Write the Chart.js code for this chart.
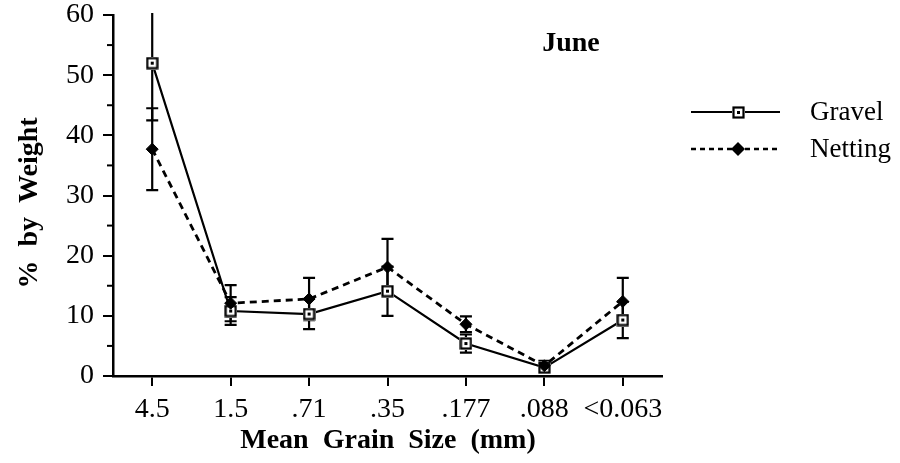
<!DOCTYPE html>
<html lang="en">
  <head>
    <meta charset="UTF-8" />
    <title>June grain size</title>
    <script src="https://cdn.jsdelivr.net/npm/chart.js@4.4.0/dist/chart.umd.min.js"></script>
    <style>
      html, body { margin: 0; padding: 0; background: #fff; }
      #wrap { width: 900px; height: 463px; }
    </style>
  </head>
  <body>
    <div id="wrap"><canvas id="myChart" width="900" height="463"></canvas></div>
    <script>
      const labels = ["4.5", "1.5", ".71", ".35", ".177", ".088", "<0.063"];
      const gravel = [52, 10.8, 10.3, 14.1, 5.4, 1.4, 9.3];
      const gravelErr = [9.5, 2.3, 2.5, 4.1, 1.5, 0.8, 3.0];
      const netting = [37.7, 12.1, 12.8, 18.1, 8.6, 1.7, 12.4];
      const nettingErr = [6.8, 3.0, 3.5, 4.7, 1.3, 0.8, 3.9];
      const yTicks = [0, 10, 20, 30, 40, 50, 60];

      const serif = "'Liberation Serif', 'DejaVu Serif', serif";

      // open square with a dot in the middle
      const sq = document.createElement("canvas");
      sq.width = 13; sq.height = 13;
      const sctx = sq.getContext("2d");
      sctx.fillStyle = "#fff";
      sctx.fillRect(0, 0, 13, 13);
      sctx.strokeStyle = "#000";
      sctx.lineWidth = 2.2;
      sctx.strokeRect(1.5, 1.5, 10, 10);
      sctx.fillStyle = "#000";
      sctx.fillRect(5, 5, 3, 3);

      const errorBars = {
        id: "errorBars",
        beforeDatasetsDraw(chart) {
          const c = chart.ctx;
          const xs = chart.scales.x, ys = chart.scales.y;
          const area = chart.chartArea;
          c.save();
          c.beginPath();
          c.rect(area.left, area.top - 2, area.right - area.left, area.bottom - area.top + 2);
          c.clip();
          c.strokeStyle = "#000";
          c.lineWidth = 2.2;
          [[gravel, gravelErr], [netting, nettingErr]].forEach(([vals, errs]) => {
            vals.forEach((v, i) => {
              const x = xs.getPixelForValue(i);
              const top = ys.getPixelForValue(v + errs[i]);
              const bot = ys.getPixelForValue(Math.max(0, v - errs[i]));
              c.beginPath();
              c.moveTo(x, top); c.lineTo(x, bot);
              c.moveTo(x - 6, top); c.lineTo(x + 6, top);
              c.moveTo(x - 6, bot); c.lineTo(x + 6, bot);
              c.stroke();
            });
          });
          c.restore();
        },
        afterDraw(chart) {
          const c = chart.ctx;
          const ys = chart.scales.y;
          const left = chart.chartArea.left;
          c.save();
          // minor ticks
          c.strokeStyle = "#000";
          c.lineWidth = 2;
          for (let v = 5; v < 60; v += 10) {
            const y = ys.getPixelForValue(v);
            c.beginPath();
            c.moveTo(left - 6, y); c.lineTo(left, y);
            c.stroke();
          }
          c.fillStyle = "#000";
          c.font = "bold 28px " + serif;
          c.textAlign = "center";
          c.textBaseline = "middle";
          c.fillText("June", 571, 44);
          c.fillText("Mean  Grain  Size  (mm)", 388, 441);
          c.save();
          c.translate(30, 203);
          c.rotate(-Math.PI / 2);
          c.fillText("%  by  Weight", 0, 0);
          c.restore();

          // legend
          c.font = "27px " + serif;
          c.textAlign = "left";
          c.lineWidth = 2;
          c.beginPath();
          c.moveTo(691, 112); c.lineTo(780, 112);
          c.stroke();
          c.drawImage(sq, 732, 106);
          c.fillText("Gravel", 810, 113);

          c.setLineDash([5, 4]);
          c.lineWidth = 2.5;
          c.beginPath();
          c.moveTo(691, 149); c.lineTo(780, 149);
          c.stroke();
          c.setLineDash([]);
          c.beginPath();
          c.moveTo(738, 142); c.lineTo(745, 149); c.lineTo(738, 156); c.lineTo(731, 149);
          c.closePath();
          c.fill();
          c.fillText("Netting", 810, 150);
          c.restore();
        }
      };

      const ctx = document.getElementById("myChart").getContext("2d");
      const myChart = new Chart(ctx, {
        type: "line",
        data: {
          labels: labels,
          datasets: [
            {
              label: "Gravel",
              data: gravel,
              borderColor: "#000",
              borderWidth: 2.2,
              pointStyle: sq,
              pointRadius: 6,
              tension: 0,
              fill: false,
              order: 2,
            },
            {
              label: "Netting",
              data: netting,
              borderColor: "#000",
              backgroundColor: "#000",
              borderWidth: 2.8,
              borderDash: [7, 5],
              pointStyle: "rectRot",
              pointRadius: 6,
              pointBorderWidth: 1,
              pointBackgroundColor: "#000",
              tension: 0,
              fill: false,
              order: 1,
            },
          ],
        },
        options: {
          responsive: false,
          animation: false,
          events: [],
          layout: { padding: { top: 15, right: 238, left: 0, bottom: 0 } },
          plugins: { legend: { display: false }, tooltip: { enabled: false } },
          scales: {
            x: {
              offset: true,
              grid: { drawOnChartArea: false, tickLength: 10, color: "#000", lineWidth: 2 },
              border: { color: "#000", width: 2.5 },
              ticks: { color: "#000", font: { family: serif, size: 28 }, padding: 7, maxRotation: 0, autoSkip: false },
              afterFit(s) { s.height = 87; s.paddingLeft = 0; s.paddingRight = 0; },
            },
            y: {
              min: 0,
              max: 60,
              afterBuildTicks(s) { s.ticks = yTicks.map(v => ({ value: v })); },
              grid: { drawOnChartArea: false, tickLength: 10, color: "#000", lineWidth: 2 },
              border: { color: "#000", width: 2.5 },
              ticks: { color: "#000", font: { family: serif, size: 28 }, padding: 9 },
              afterFit(s) { s.width = 113; s.paddingTop = 0; s.paddingBottom = 0; },
            },
          },
        },
        plugins: [errorBars],
      });
    </script>
  </body>
</html>
